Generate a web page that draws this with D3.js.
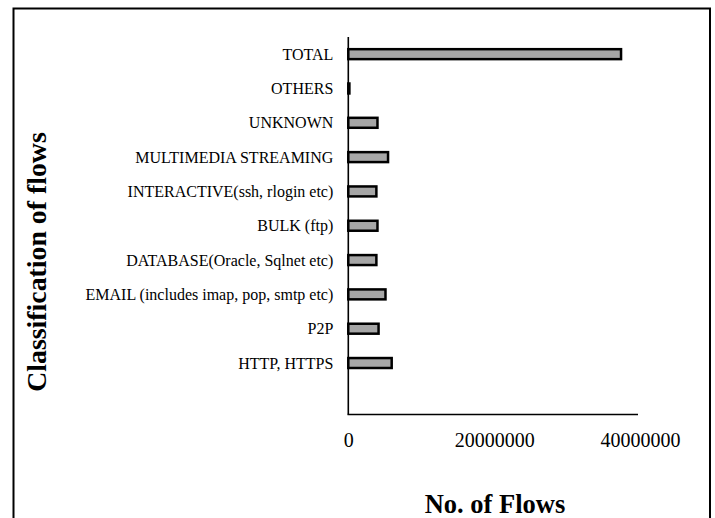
<!DOCTYPE html>
<html lang="en">
<head>
	<meta charset="UTF-8"/>
	<title>Classification of flows</title>
	<script src="https://d3js.org/d3.v7.min.js"></script>
	<style>
		body { margin: 0; background-color: white; }
		svg { display: block; }
		svg text { font-family: 'Liberation Serif', 'Times New Roman', serif; fill: black; }
	</style>
</head>
<body>
	<script>
	// categories top to bottom, last slot is left empty like the original
	var categories = ["TOTAL", "OTHERS", "UNKNOWN", "MULTIMEDIA STREAMING",
		"INTERACTIVE(ssh, rlogin etc)", "BULK (ftp)", "DATABASE(Oracle, Sqlnet etc)",
		"EMAIL (includes imap, pop, smtp etc)", "P2P", "HTTP, HTTPS", ""];
	var flows = [37400000, 150000, 4000000, 5450000, 3850000, 4000000, 3850000,
		5100000, 4150000, 5950000];
	var xTicks = [0, 20000000, 40000000];

	var w = 715;
	var h = 518;
	var serif = "'Liberation Serif', 'Times New Roman', serif";

	var svg = d3.select("body")
				.append("svg")
				.attr("width", w)
				.attr("height", h);

	// outer frame
	svg.append("rect")
		.attr("x", 13.5)
		.attr("y", 8.5)
		.attr("width", 696.5)
		.attr("height", 600)
		.attr("fill", "white")
		.attr("stroke", "black")
		.attr("stroke-width", 2);

	var xScale = d3.scaleLinear()
					.domain([0, 40000000])
					.range([348.3, 640]);

	var yScale = d3.scalePoint()
					.domain(categories)
					.range([37, 414.5])
					.padding(0.5);

	var step = yScale.step();

	var xAxis = d3.axisBottom(xScale)
					.tickValues(xTicks)
					.tickFormat(d3.format("d"))
					.tickSize(0)
					.tickSizeOuter(0)
					.tickPadding(18);

	var gx = svg.append("g")
		.attr("transform", "translate(0,414.5)")
		.call(xAxis)
		.attr("font-family", serif)
		.attr("font-size", 20);
	gx.select(".domain")
		.attr("stroke", "black")
		.attr("stroke-width", 1.6)
		.attr("d", "M" + (xScale(0) - 0.8) + ",0H" + (xScale(40000000) - 2));

	var yAxis = d3.axisLeft(yScale)
					.tickSize(0)
					.tickSizeOuter(0)
					.tickPadding(15);

	var gy = svg.append("g")
		.attr("transform", "translate(" + xScale(0) + ",0)")
		.call(yAxis)
		.attr("font-family", serif)
		.attr("font-size", 16);
	gy.select(".domain")
		.attr("stroke", "black")
		.attr("stroke-width", 1.6)
		.attr("d", "M0,37V414.5");

	// bars
	svg.append("g")
		.selectAll("rect")
		.data(flows)
		.enter()
		.append("rect")
		.attr("x", xScale(0))
		.attr("y", function(d, i) { return yScale(categories[i]) - step * 0.145; })
		.attr("width", function(d) { return xScale(d) - xScale(0); })
		.attr("height", step * 0.29)
		.attr("fill", "#a6a6a6")
		.attr("stroke", "black")
		.attr("stroke-width", 2.5);

	// axis titles
	svg.append("text")
		.attr("transform", "translate(46,262) rotate(-90)")
		.attr("text-anchor", "middle")
		.style("font-size", "27.8px")
		.style("font-weight", "bold")
		.text("Classification of flows");

	svg.append("text")
		.attr("x", 495)
		.attr("y", 513)
		.attr("text-anchor", "middle")
		.style("font-size", "26.5px")
		.style("font-weight", "bold")
		.text("No. of Flows");
	</script>
</body>
</html>
